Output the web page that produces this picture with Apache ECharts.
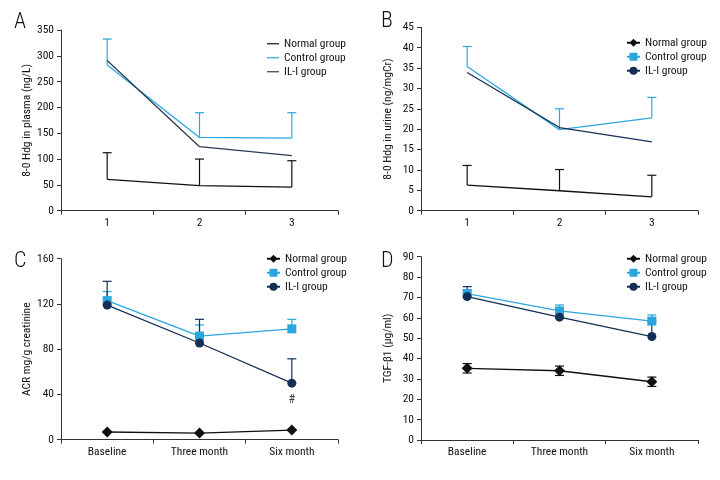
<!DOCTYPE html>
<html><head><meta charset="utf-8">
<script src="https://cdn.jsdelivr.net/npm/echarts@6/dist/echarts.min.js"></script>
<style>html,body{margin:0;padding:0;background:#fff}#c{width:720px;height:480px}</style>
</head><body><div id="c"></div>
<script>
const cats1 = ['1', '2', '3'];
const cats2 = ['Baseline', 'Three month', 'Six month'];
const groupNames = ['Normal group', 'Control group', 'IL-I group'];
// Panel A: 8-O Hdg in plasma (ng/L)
const aNormal = [60.7, 48.4, 45.8];
const aNormalErr = [112.3, 100, 96.8];
const aControl = [282, 142, 140.7];
const aControlErr = [332.5, 189.8, 189.8];
const aIL = [291, 124, 106.5];
// Panel B: 8-O Hdg in urine (ng/mgCr)
const bNormal = [6.3, 4.9, 3.4];
const bNormalErr = [11.1, 10.1, 8.7];
const bControl = [35.4, 19.9, 22.8];
const bControlErr = [40.3, 25, 27.8];
const bIL = [33.9, 20.4, 16.9];
// Panel C: ACR mg/g creatinine
const cNormal = [6.8, 5.9, 8.5];
const cControl = [123, 91.6, 98];
const cControlErr = [131, 101.4, 106.4];
const cIL = [119, 85.5, 50];
const cILErr = [140, 106.4, 71.5];
const cMark = [[2, 35, '#']];
// Panel D: TGF-β1 (μg/ml)
const dNormal = [35.2, 34, 28.6];
const dNormalSE = [2.3, 2.3, 2.3];
const dControl = [71.9, 63.4, 58.4];
const dControlErr = [73.8, 66.3, 61.4];
const dIL = [70.4, 60.3, 50.8];
const dILErr = [75.3, 60.3, 58.4];

const FONT = '"Roboto Condensed", Roboto, sans-serif';
const TXT = '#111';
const C_N = '#111111', C_C = '#2aa7df', C_I = '#142f55';

const chart = echarts.init(document.getElementById('c'), null, {renderer: 'canvas'});

const grids = [
  {left: 61, top: 30, width: 277, height: 180.7},
  {left: 421, top: 27.3, width: 277, height: 183.4},
  {left: 61, top: 258.7, width: 277, height: 181},
  {left: 421, top: 256.7, width: 277, height: 183.3}
];
const yCfg = [
  {max: 350, interval: 50, name: '8-0 Hdg in plasma (ng/L)', gap: 25},
  {max: 45, interval: 5, name: '8-0 Hdg in urine (ng/mgCr)', gap: 27},
  {max: 160, interval: 40, name: 'ACR mg/g creatinine', gap: 27},
  {max: 90, interval: 10, name: 'TGF-β1 (μg/ml)', gap: 27}
];
const axisLine = {lineStyle: {color: '#333', width: 1}};
const xAxes = [0,1,2,3].map(i => ({
  type: 'category', gridIndex: i, data: i < 2 ? cats1 : cats2, boundaryGap: true,
  axisLine: axisLine, axisTick: {show: true, length: 4, lineStyle: {color: '#333'}},
  axisLabel: {color: TXT, fontFamily: FONT, fontSize: 11.5, margin: 6}
}));
const yAxes = yCfg.map((c, i) => ({
  type: 'value', gridIndex: i, min: 0, max: c.max, interval: c.interval,
  name: c.name, nameLocation: 'middle', nameGap: c.gap,
  nameTextStyle: {color: TXT, fontFamily: FONT, fontSize: 11.5},
  axisLine: {show: true, lineStyle: {color: '#333', width: 1}},
  axisTick: {show: true, length: 4, lineStyle: {color: '#333'}},
  splitLine: {show: false},
  axisLabel: {color: TXT, fontFamily: FONT, fontSize: 11.5, margin: 7}
}));

function lineSeries(panel, gi, idx, data, color, symbol, showSym, size) {
  return {
    type: 'line', name: groupNames[idx] + '|' + panel, xAxisIndex: gi, yAxisIndex: gi,
    data: data, symbol: symbol, symbolSize: size, showSymbol: showSym,
    lineStyle: {color: color, width: 1.3}, itemStyle: {color: color},
    z: 3, animation: false
  };
}
function errSeries(gi, means, highs, color, lows) {
  const d = means.map((m, i) => [i, lows ? m - lows[i] : m, highs ? highs[i] : m + (lows ? lows[i] : 0), lows ? 1 : 0]);
  return {
    type: 'custom', xAxisIndex: gi, yAxisIndex: gi, data: d, z: 2, animation: false,
    renderItem: function (params, api) {
      const x = api.value(0);
      const pL = api.coord([x, api.value(1)]);
      const pH = api.coord([x, api.value(2)]);
      const hw = 4.5;
      const st = {stroke: color, lineWidth: 1.2};
      const ch = [
        {type: 'line', shape: {x1: pL[0], y1: pL[1], x2: pH[0], y2: pH[1]}, style: st},
        {type: 'line', shape: {x1: pH[0] - hw, y1: pH[1], x2: pH[0] + hw, y2: pH[1]}, style: st}
      ];
      if (api.value(3)) ch.push({type: 'line', shape: {x1: pL[0] - hw, y1: pL[1], x2: pL[0] + hw, y2: pL[1]}, style: st});
      return {type: 'group', children: ch};
    }
  };
}

const series = [
  // A
  errSeries(0, aNormal, aNormalErr, C_N),
  errSeries(0, aControl, aControlErr, C_C),
  lineSeries('A', 0, 0, aNormal, C_N, 'none', false, 0),
  lineSeries('A', 0, 1, aControl, C_C, 'none', false, 0),
  lineSeries('A', 0, 2, aIL, '#2e3b52', 'none', false, 0),
  // B
  errSeries(1, bNormal, bNormalErr, C_N),
  errSeries(1, bControl, bControlErr, C_C),
  lineSeries('B', 1, 0, bNormal, C_N, 'diamond', false, 11),
  lineSeries('B', 1, 1, bControl, C_C, 'rect', false, 9),
  lineSeries('B', 1, 2, bIL, C_I, 'circle', false, 9),
  // C
  errSeries(2, cControl, cControlErr, C_C),
  errSeries(2, cIL, cILErr, C_I),
  lineSeries('C', 2, 0, cNormal, C_N, 'diamond', true, 11),
  lineSeries('C', 2, 1, cControl, C_C, 'rect', true, 9),
  lineSeries('C', 2, 2, cIL, C_I, 'circle', true, 9),
  {
    type: 'scatter', xAxisIndex: 2, yAxisIndex: 2, data: cMark, symbolSize: 0, animation: false,
    label: {show: true, position: 'inside', formatter: p => p.data[2], color: TXT, fontFamily: FONT, fontSize: 12}
  },
  // D
  errSeries(3, dNormal, null, C_N, dNormalSE),
  errSeries(3, dControl, dControlErr, C_C),
  errSeries(3, dIL, dILErr, C_I),
  lineSeries('D', 3, 0, dNormal, C_N, 'diamond', true, 11),
  lineSeries('D', 3, 1, dControl, C_C, 'rect', true, 9),
  lineSeries('D', 3, 2, dIL, C_I, 'circle', true, 9)
];

function legend(panel, left, top, iconLine) {
  return {
    left: left, top: top, orient: 'vertical', padding: 0, itemGap: 1.5,
    itemWidth: iconLine ? 12 : 13, itemHeight: iconLine ? 1.2 : 10,
    selectedMode: false,
    data: groupNames.map(n => iconLine ? {name: n + '|' + panel, icon: 'rect'} : {name: n + '|' + panel}),
    formatter: n => n.split('|')[0],
    textStyle: {color: TXT, fontFamily: FONT, fontSize: 11.5, lineHeight: 12.5}
  };
}

const letterStyle = (t, x, y) => ({type: 'text', left: x, top: y, style: {text: t, fontFamily: FONT, fontSize: 22, fontWeight: 300, fill: '#111'}});

chart.setOption({
  animation: false,
  grid: grids,
  xAxis: xAxes,
  yAxis: yAxes,
  legend: [legend('A', 267, 37.5, true), legend('B', 626, 36.5, false), legend('C', 266, 252.5, false), legend('D', 626, 252.5, false)],
  series: series,
  graphic: [letterStyle('A', 14, 11), letterStyle('B', 381, 10), letterStyle('C', 14, 250), letterStyle('D', 381, 250)]
});
</script></body></html>
